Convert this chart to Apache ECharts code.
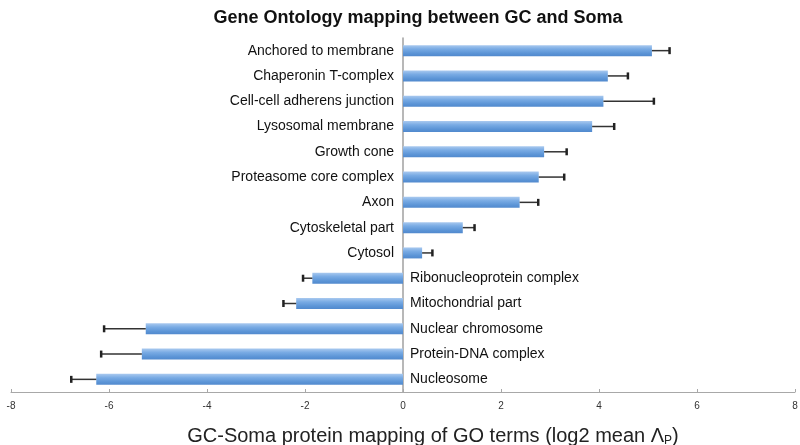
<!DOCTYPE html>
<html>
<head>
<meta charset="utf-8">
<script src="https://cdn.jsdelivr.net/npm/echarts@6/dist/echarts.min.js"></script>
<style>html,body{margin:0;padding:0;background:#fff}#c{width:800px;height:445px}</style>
</head>
<body>
<div id="c"></div>
<script>
var categories = [
  'Anchored to membrane','Chaperonin T-complex','Cell-cell adherens junction','Lysosomal membrane',
  'Growth cone','Proteasome core complex','Axon','Cytoskeletal part','Cytosol',
  'Ribonucleoprotein complex','Mitochondrial part','Nuclear chromosome','Protein-DNA complex','Nucleosome'
];
var values = [5.08, 4.18, 4.09, 3.86, 2.88, 2.77, 2.38, 1.22, 0.39, -1.85, -2.18, -5.25, -5.33, -6.26];
var errors = [0.36, 0.41, 1.03, 0.45, 0.46, 0.52, 0.38, 0.24, 0.21, 0.19, 0.26, 0.85, 0.83, 0.51];
var xTicks = [-8, -6, -4, -2, 0, 2, 4, 6, 8];

var FONT = '"Liberation Sans", Arial, sans-serif';
var chart = echarts.init(document.getElementById('c'), null, {renderer: 'canvas'});

var errData = values.map(function (v, i) {
  var end = v >= 0 ? v + errors[i] : v - errors[i];
  return [v, end, i];
});
var labelData = values.map(function (v, i) { return [0, i, v >= 0 ? 1 : -1]; });

chart.setOption({
  animation: false,
  title: {
    text: 'Gene Ontology mapping between GC and Soma',
    left: 413, top: 4, textAlign: 'center',
    textStyle: {fontFamily: FONT, fontWeight: 'bold', fontSize: 18, color: '#111'}
  },
  grid: {left: 11, right: 5, top: 38, bottom: 53, containLabel: false, outerBoundsMode: 'none'},
  xAxis: {
    type: 'value', min: -8, max: 8, interval: 2,
    splitLine: {show: false},
    axisLine: {show: true, onZero: false, lineStyle: {color: '#a8a8a8', width: 1}},
    axisTick: {show: true, inside: true, length: 3, lineStyle: {color: '#a8a8a8'}},
    axisLabel: {fontFamily: FONT, fontSize: 10, color: '#333', margin: 9,
      formatter: function (v) { return xTicks.indexOf(v) >= 0 ? String(v) : ''; }},
    name: '{a|GC-Soma protein mapping of GO terms (log2 mean Λ}{s|P}{a|)}',
    nameLocation: 'middle', nameGap: 34,
    nameTextStyle: {
      padding: [0, 0, 0, 60],
      rich: {
        a: {fontFamily: FONT, fontSize: 20, color: '#222'},
        s: {fontFamily: FONT, fontSize: 12, color: '#222', verticalAlign: 'bottom', padding: [9, 0, 0, 0]}
      }
    }
  },
  yAxis: {
    type: 'category', data: categories, inverse: true,
    axisLine: {show: true, onZero: true, lineStyle: {color: '#a0a0a0', width: 1.5}},
    axisTick: {show: false},
    axisLabel: {show: false},
    splitLine: {show: false}
  },
  series: [
    {
      type: 'bar', data: values, barWidth: 11,
      itemStyle: {
        color: new echarts.graphic.LinearGradient(0, 0, 0, 1, [
          {offset: 0, color: '#a9c9ef'},
          {offset: 0.35, color: '#79abe4'},
          {offset: 0.75, color: '#5b94d6'},
          {offset: 1, color: '#5189cd'}
        ])
      },
      z: 2
    },
    {
      type: 'custom', data: errData, z: 3,
      renderItem: function (params, api) {
        var s = api.coord([api.value(0), api.value(2)]);
        var e = api.coord([api.value(1), api.value(2)]);
        return {
          type: 'group',
          children: [
            {type: 'line', shape: {x1: s[0], y1: s[1], x2: e[0], y2: e[1]}, style: {stroke: '#333', lineWidth: 1.5}},
            {type: 'line', shape: {x1: e[0], y1: e[1] - 3.5, x2: e[0], y2: e[1] + 3.5}, style: {stroke: '#222', lineWidth: 2.5}}
          ]
        };
      }
    },
    {
      type: 'custom', data: labelData, z: 4,
      renderItem: function (params, api) {
        var p = api.coord([0, api.value(1)]);
        var pos = api.value(2) > 0;
        return {
          type: 'text',
          style: {
            text: categories[params.dataIndex],
            x: pos ? p[0] - 9 : p[0] + 7,
            y: p[1],
            align: pos ? 'right' : 'left',
            verticalAlign: 'middle',
            font: '14px ' + FONT,
            fill: '#111'
          }
        };
      }
    }
  ]
});
</script>
</body>
</html>
